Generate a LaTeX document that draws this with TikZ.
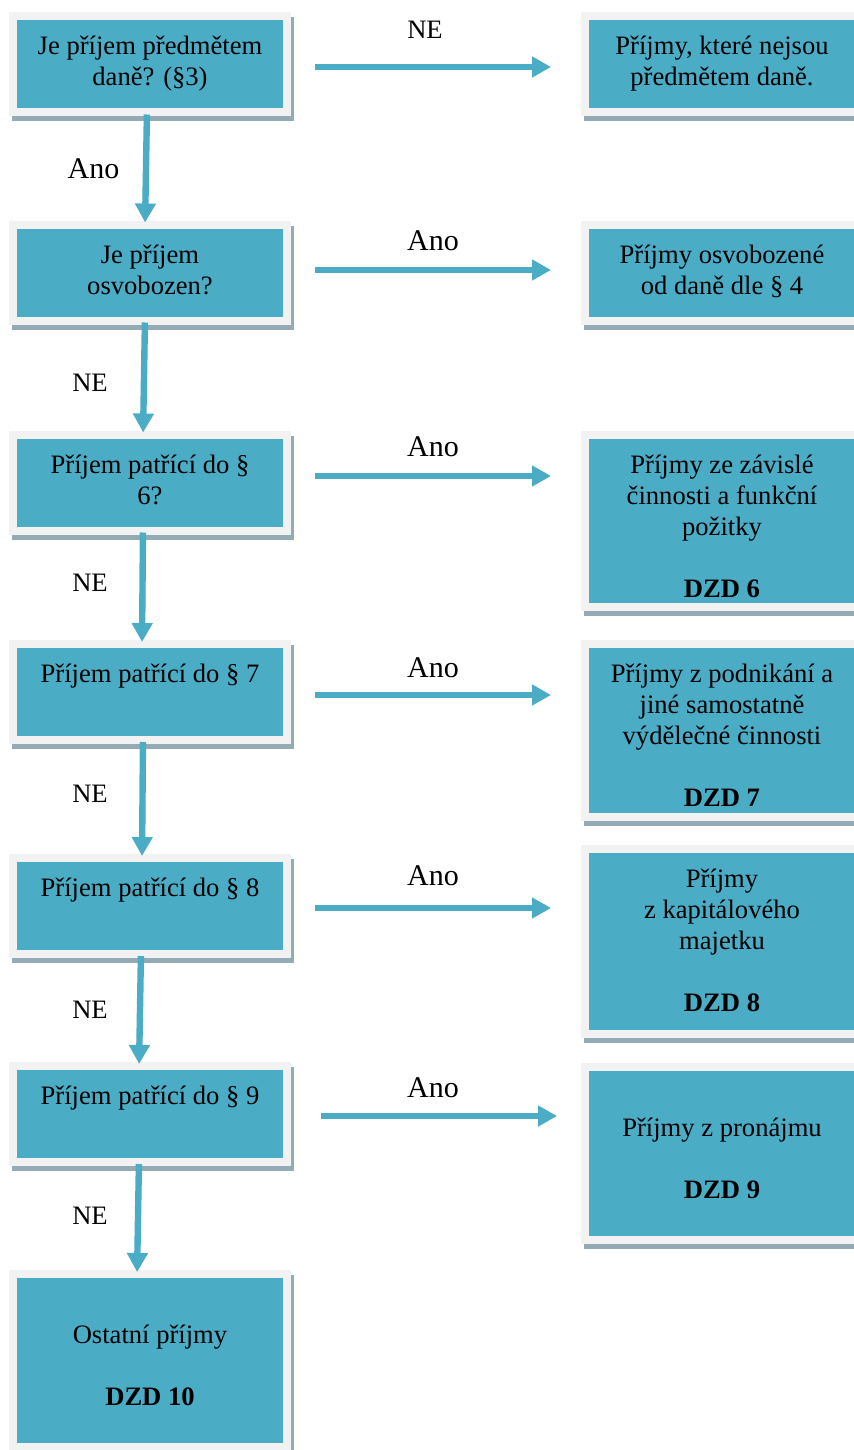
\documentclass[tikz,border=0pt]{standalone}
\usepackage{fontspec}
\setmainfont{Liberation Serif}
\usetikzlibrary{arrows.meta,positioning}

\definecolor{boxteal}{HTML}{4BACC6}
\definecolor{framegray}{HTML}{F2F2F2}
\definecolor{shadowgray}{HTML}{94AAB4}

\begin{document}
\begin{tikzpicture}[x=0.5pt, y=-0.5pt, >={Triangle[length=9.5pt,width=10pt]}]
		\tikzstyle{box} = [fill=boxteal, minimum width=133pt, minimum height=44pt, inner sep=0pt, outer sep=0pt,
			preaction={draw=shadowgray, line width=8pt, transform canvas={shift={(1.25pt,-2.5pt)}}},
			preaction={draw=framegray, line width=8pt}]
		\tikzstyle{txt} = [font=\fontsize{13.3}{15.5}\selectfont, align=center, inner sep=0pt]
		\tikzstyle{lbl} = [font=\fontsize{13.3}{15.5}\selectfont, inner sep=0pt]
		\tikzstyle{biglbl} = [font=\fontsize{15}{18}\selectfont, inner sep=0pt]
		\tikzstyle{flow} = [->, draw=boxteal, line width=3.2pt, shorten <=3pt, shorten >=3pt]

		\useasboundingbox (0,0) rectangle (854,1450);

		% questions on the left, results on the right
		\path
		node[box] (q1) at (150,64.5) {}
		node[box] (q2) at (150,272.5) {}
		node[box] (q3) at (150,482.5) {}
		node[box] (q4) at (150,692) {}
		node[box] (q5) at (150,906) {}
		node[box] (q6) at (150,1114) {}
		node[box, minimum height=82.5pt] (q7) at (150,1360.5) {}
		node[box] (r1) at (722,64.5) {}
		node[box] (r2) at (722,272.5) {}
		node[box, minimum height=82pt] (r3) at (722,521) {}
		node[box, minimum height=82.5pt] (r4) at (722,730.5) {}
		node[box, minimum height=88.5pt] (r5) at (722,941.5) {}
		node[box, minimum height=82.5pt] (r6) at (722,1153.5) {}
		;

		\node[txt, below=6.2pt of q1.north] {\strut Je příjem předmětem\\daně? (§3)};
		\node[txt, below=6.2pt of q2.north] {\strut Je příjem\\osvobozen?};
		\node[txt, below=6.2pt of q3.north] {\strut Příjem patřící do §\\6?};
		\node[txt, below=6.2pt of q4.north] {\strut Příjem patřící do § 7};
		\node[txt, below=6.2pt of q5.north] {\strut Příjem patřící do § 8};
		\node[txt, below=6.2pt of q6.north] {\strut Příjem patřící do § 9};
		\node[txt, below=6.2pt of q7.north] {\strut\\Ostatní příjmy\\\strut\\\textbf{DZD 10}};

		\node[txt, below=6.2pt of r1.north] {\strut Příjmy, které nejsou\\předmětem daně.};
		\node[txt, below=6.2pt of r2.north] {\strut Příjmy osvobozené\\od daně dle § 4};
		\begin{scope}
		\clip (589,431) rectangle (854,597);
		\node[txt, below=6.2pt of r3.north] {\strut Příjmy ze závislé\\činnosti a funkční\\požitky\\\strut\\\textbf{DZD 6}};
		\end{scope}
		\node[txt, below=6.2pt of r4.north] {\strut Příjmy z podnikání a\\jiné samostatně\\výdělečné činnosti\\\strut\\\textbf{DZD 7}};
		\node[txt, below=6.2pt of r5.north] {\strut Příjmy\\z kapitálového\\majetku\\\strut\\\textbf{DZD 8}};
		\node[txt, below=6.2pt of r6.north] {\strut\\Příjmy z pronájmu\\\strut\\\textbf{DZD 9}};

		% down the left column
		\draw[flow] ([xshift=-1.5pt]q1.south) -- node[biglbl, xshift=-26.25pt] {Ano} ([xshift=-2.5pt]q2.north);
		\draw[flow] ([xshift=-2.5pt]q2.south) -- node[lbl, xshift=-27pt, yshift=-2.5pt] {NE} ([xshift=-3.5pt]q3.north);
		\draw[flow] ([xshift=-3.5pt]q3.south) -- node[lbl, xshift=-26.25pt, yshift=2pt] {NE} ([xshift=-4pt]q4.north);
		\draw[flow] ([xshift=-3.5pt]q4.south) -- node[lbl, xshift=-26.25pt, yshift=2.75pt] {NE} ([xshift=-4pt]q5.north);
		\draw[flow] ([xshift=-4.5pt]q5.south) -- node[lbl, xshift=-25pt] {NE} ([xshift=-5.5pt]q6.north);
		\draw[flow] ([xshift=-5.5pt]q6.south) -- node[lbl, xshift=-24pt, yshift=1.25pt] {NE} ([xshift=-6.5pt]q7.north);

		% across to the results
		\coordinate (h1) at ([yshift=-1.25pt]q1.east);
		\coordinate (h2) at ([yshift=1.25pt]q2.east);
		\coordinate (h3) at ([yshift=3.25pt]q3.east);
		\coordinate (h4) at ([yshift=-1.5pt]q4.east);
		\coordinate (h5) at ([yshift=-1pt]q5.east);
		\coordinate (h6) at ([yshift=-1pt]q6.east);

		\draw[flow, shorten <=16pt, shorten >=19pt] (h1) -- node[lbl, xshift=-5.5pt, yshift=18.5pt] {NE} (h1 -| r1.west);
		\draw[flow, shorten <=16pt, shorten >=19pt] (h2) -- node[biglbl, xshift=-1.5pt, yshift=14.5pt] {Ano} (h2 -| r2.west);
		\draw[flow, shorten <=16pt, shorten >=19pt] (h3) -- node[biglbl, xshift=-1.5pt, yshift=14.5pt] {Ano} (h3 -| r3.west);
		\draw[flow, shorten <=16pt, shorten >=19pt] (h4) -- node[biglbl, xshift=-1.5pt, yshift=13.5pt] {Ano} (h4 -| r4.west);
		\draw[flow, shorten <=16pt, shorten >=19pt] (h5) -- node[biglbl, xshift=-1.5pt, yshift=16pt] {Ano} (h5 -| r5.west);
		\draw[flow, shorten <=19pt, shorten >=16pt] (h6) -- node[biglbl, xshift=-1.5pt, yshift=14pt] {Ano} (h6 -| r6.west);

\end{tikzpicture}
\end{document}
